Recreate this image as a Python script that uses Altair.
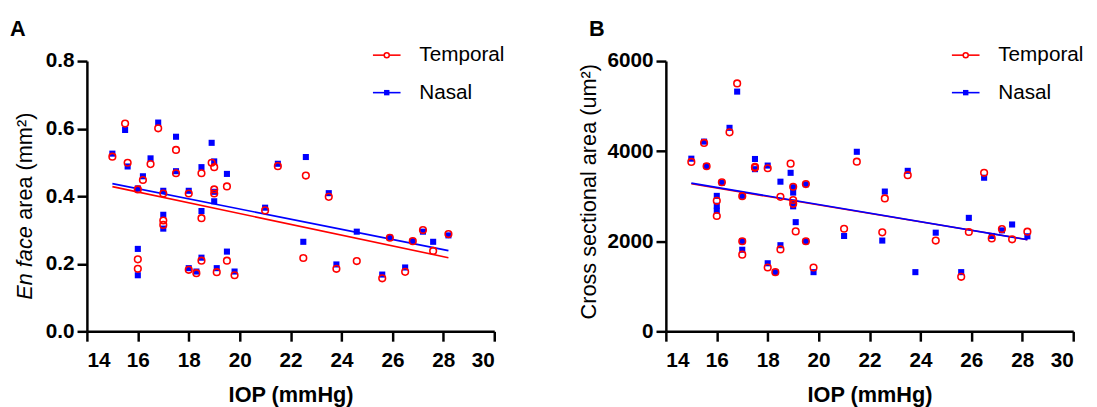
import altair as alt
import pandas as pd

RED = "#ff0000"
BLUE = "#0000ff"
FONT = "Liberation Sans"

# ---------------- data ----------------
series_names = ["Temporal", "Nasal"]

# Panel A: En face area (mm^2) vs IOP
A_iop = [15.0, 15.5, 15.6, 16.2, 16.8, 16.5, 17.5, 17.5, 18.5, 18.9,
         19.0, 19.5, 21.5, 16.0, 17.0, 17.0, 17.0, 18.0, 18.5, 19.0,
         19.0, 21.0, 16.0, 16.0, 18.0, 18.3, 18.5, 19.1, 19.5, 19.8,
         22.6, 23.5, 24.6, 22.5, 23.8, 25.6, 25.9, 26.5, 26.8, 27.2,
         27.6, 28.2]
A_temporal = [0.517, 0.615, 0.499, 0.448, 0.601, 0.495, 0.537, 0.468, 0.468, 0.499,
              0.486, 0.429, 0.489, 0.420, 0.408, 0.328, 0.315, 0.408, 0.335, 0.420,
              0.408, 0.358, 0.213, 0.185, 0.182, 0.172, 0.209, 0.175, 0.209, 0.166,
              0.461, 0.398, 0.208, 0.217, 0.185, 0.157, 0.277, 0.176, 0.267, 0.300,
              0.238, 0.288]
A_nasal = [0.526, 0.596, 0.488, 0.459, 0.618, 0.512, 0.576, 0.474, 0.486, 0.558,
           0.503, 0.466, 0.496, 0.423, 0.416, 0.345, 0.304, 0.416, 0.356, 0.413,
           0.385, 0.366, 0.244, 0.166, 0.187, 0.177, 0.218, 0.187, 0.236, 0.177,
           0.516, 0.409, 0.295, 0.265, 0.198, 0.168, 0.277, 0.189, 0.267, 0.295,
           0.265, 0.284]

# Panel B: Cross sectional area (um^2) vs IOP
B_iop = [15.0, 15.5, 15.6, 16.0, 16.0, 16.0, 16.2, 16.5, 16.8, 17.0,
         17.0, 17.0, 17.5, 17.5, 18.0, 18.0, 18.3, 18.5, 18.5, 18.9,
         19.0, 19.0, 19.0, 19.0, 19.1, 19.5, 19.5, 19.8, 21.0, 21.5,
         22.5, 22.6, 23.5, 23.8, 24.6, 25.6, 25.9, 26.5, 26.8, 27.2,
         27.6, 28.2]
B_temporal = [3760, 4183, 3665, 2897, None, 2560, 3310, 4417, 5504, 3000,
              2000, 1701, 3650, 3630, 3621, 1417, 1314, 2985, 1818, 3723,
              3210, 2915, 2830, None, 2219, 3270, 2000, 1417, 2277, 3767,
              2197, 2950, 3467, None, 2015, 1211, 2205, 3519, 2063, 2270,
              2043, 2212]
B_nasal = [3833, 4212, 3670, 3007, 2788, 2678, 3300, 4518, 5322, 3007,
           2000, 1811, 3826, 3600, 3680, 1511, 1314, 3322, 1912, 3519,
           3200, 3080, 2860, 2775, 2424, 3265, 2000, 1314, 2117, 3986,
           2015, 3103, 3563, 1314, 2190, 1314, 2519, 3410, 2117, 2241,
           2372, 2110]


def long_df(iop, temporal, nasal):
    rows = []
    for x, t, n in zip(iop, temporal, nasal):
        if t is not None:
            rows.append({"iop": x, "value": t, "side": "Temporal"})
        if n is not None:
            rows.append({"iop": x, "value": n, "side": "Nasal"})
    return pd.DataFrame(rows)


def panel(df, ydom, yticks, yfmt, letter, title_parts):
    xenc = alt.X("iop:Q",
                 scale=alt.Scale(domain=[14, 30], nice=False, zero=False),
                 axis=alt.Axis(values=list(range(14, 31, 2)), title="IOP (mmHg)",
                               labelPadding=9, titlePadding=14))
    yenc = alt.Y("value:Q",
                 scale=alt.Scale(domain=ydom, nice=False),
                 axis=alt.Axis(values=yticks, format=yfmt, title=None, labelPadding=3))
    base = alt.Chart(df)
    lines = base.transform_regression("iop", "value", groupby=["side"]).mark_line(
        strokeWidth=1.6).encode(
        x=xenc, y=yenc,
        color=alt.Color("side:N", scale=alt.Scale(domain=series_names, range=[RED, BLUE]),
                        legend=None))
    nasal = base.transform_filter(alt.datum.side == "Nasal").mark_point(
        shape="square", filled=True, size=38, color=BLUE, opacity=1).encode(x=xenc, y=yenc)
    temporal = base.transform_filter(alt.datum.side == "Temporal").mark_point(
        shape="circle", filled=False, size=45, strokeWidth=1.6, color=RED, opacity=1
    ).encode(x=xenc, y=yenc)

    layers = [lines, nasal, temporal]

    # legend (drawn manually: line + marker + label)
    for name, ypos, col, shape in [(series_names[0], -6, RED, "circle"),
                                   (series_names[1], 32, BLUE, "square")]:
        src = alt.Chart(pd.DataFrame({"label": [name]}))
        layers.append(src.mark_rule(color=col, strokeWidth=1.6).encode(
            x=alt.value(290), x2=alt.value(318), y=alt.value(ypos)))
        if shape == "circle":
            layers.append(src.mark_point(shape="circle", filled=True, fill="white", stroke=RED,
                                         strokeWidth=1.5, size=26, opacity=1).encode(
                x=alt.value(304), y=alt.value(ypos)))
        else:
            layers.append(src.mark_point(shape="square", filled=True, color=BLUE,
                                         size=30, opacity=1).encode(
                x=alt.value(304), y=alt.value(ypos)))
        layers.append(src.mark_text(align="left", baseline="middle", font=FONT,
                                    fontSize=21, color="black").encode(
            x=alt.value(337), y=alt.value(ypos), text="label:N"))

    # panel letter
    lt = alt.Chart(pd.DataFrame({"label": [letter]}))
    layers.append(lt.mark_text(align="left", baseline="alphabetic", font=FONT, fontSize=22,
                               fontWeight="bold", color="black").encode(
        x=alt.value(-78), y=alt.value(-25), text="label:N"))

    # y-axis title parts (rotated), allows mixed italic
    for txt, style, xpos, ypos in title_parts:
        tp = alt.Chart(pd.DataFrame({"label": [txt]}))
        layers.append(tp.mark_text(align="left", baseline="alphabetic", angle=270, font=FONT,
                                   fontSize=22, fontStyle=style, color="black").encode(
            x=alt.value(xpos), y=alt.value(ypos), text="label:N"))

    return alt.layer(*layers).properties(width=413, height=274)


dfA = long_df(A_iop, A_temporal, A_nasal)
dfB = long_df(B_iop, B_temporal, B_nasal)

chartA = panel(dfA, [0, 0.8], [0, 0.2, 0.4, 0.6, 0.8], ".1f", "A",
               [("En face", "italic", -56, 242), (" area (mm²)", "normal", -56, 161)])
chartB = panel(dfB, [0, 6000], [0, 2000, 4000, 6000], "d", "B",
               [("Cross sectional area (um²)", "normal", -71, 262)])

chart = alt.hconcat(chartA, chartB, spacing=73).configure_view(stroke=None).configure_axis(
    grid=False, domainColor="black", domainWidth=2.5, tickColor="black", tickWidth=2.5,
    tickSize=10, labelFont=FONT, labelFontSize=21, labelFontWeight="bold", labelColor="black",
    titleFont=FONT, titleFontSize=22, titleFontWeight="bold",
    titleColor="black"
).properties(padding={"left": 2, "top": 8, "right": 5, "bottom": 5})

chart.save("out.html", embed_options={"renderer": "svg", "actions": False})
